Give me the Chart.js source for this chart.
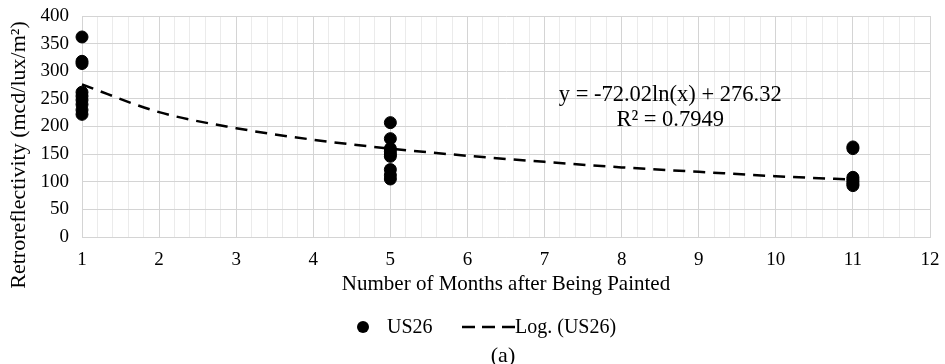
<!DOCTYPE html>
<html>
<head>
<meta charset="utf-8">
<script src="https://cdn.jsdelivr.net/npm/chart.js@4"></script>
<style>
    body { margin: 0; background: #fff; }
    #wrap { width: 945px; height: 364px; position: relative; }
</style>
</head>
<body>
<div id="wrap"><canvas id="chart-canvas"></canvas></div>
<script>
// readings per survey month
const MONTH_1  = [362, 318, 314, 262, 255, 248, 240, 230, 222];
const MONTH_5  = [207, 178, 160, 155, 150, 146, 122, 112, 105];
const MONTH_11 = [163, 160, 108, 104, 100, 96, 93];

// dashed log trend line, read at each month
const TREND_X = [1, 2, 3, 4, 5, 6, 7, 8, 9, 10, 11];
const TREND_Y = [276, 226, 197, 176, 160, 147, 136, 126, 118, 110, 104];

const X_TICKS = [1, 2, 3, 4, 5, 6, 7, 8, 9, 10, 11, 12];
const Y_TICKS = [0, 50, 100, 150, 200, 250, 300, 350, 400];

const EQUATION = "y = -72.02ln(x) + 276.32";
const R_SQUARED = "R² = 0.7949";
const Y_TITLE = "Retroreflectivity (mcd/lux/m²)";

const FONT = "'Liberation Serif', 'Times New Roman', serif";

const points = [];
MONTH_1.forEach(v => points.push({x: 1, y: v}));
MONTH_5.forEach(v => points.push({x: 5, y: v}));
MONTH_11.forEach(v => points.push({x: 11, y: v}));

const trend = TREND_X.map((x, i) => ({x: x, y: TREND_Y[i]}));

function isMajor(v) {
    return Math.abs(v - Math.round(v)) < 1e-6;
}

function noPad(scale) {
    scale.paddingTop = 0;
    scale.paddingBottom = 0;
    scale.paddingLeft = 0;
    scale.paddingRight = 0;
}

const extras = {
    id: "extras",
    afterDraw(chart) {
        const ctx = chart.ctx;
        const xs = chart.scales.x;
        const ys = chart.scales.y;
        ctx.save();
        ctx.fillStyle = "#000";
        ctx.textBaseline = "middle";

        // y axis title, sits lower than the plot centre
        ctx.save();
        ctx.translate(19, 155);
        ctx.rotate(-Math.PI / 2);
        ctx.font = "22px " + FONT;
        ctx.textAlign = "center";
        ctx.fillText(Y_TITLE, 0, 0);
        ctx.restore();

        ctx.font = "22.5px " + FONT;
        ctx.textAlign = "center";
        ctx.fillText(EQUATION, xs.getPixelForValue(8.63), ys.getPixelForValue(256));
        ctx.fillText(R_SQUARED, xs.getPixelForValue(8.63), ys.getPixelForValue(211));

        // legend
        const ly = 327;
        ctx.beginPath();
        ctx.arc(363, ly, 6, 0, Math.PI * 2);
        ctx.fill();
        ctx.font = "20px " + FONT;
        ctx.textAlign = "left";
        ctx.fillText("US26", 387, ly + 1);
        ctx.strokeStyle = "#000";
        ctx.lineWidth = 2.5;
        ctx.setLineDash([13, 7]);
        ctx.beginPath();
        ctx.moveTo(462, ly);
        ctx.lineTo(515, ly);
        ctx.stroke();
        ctx.setLineDash([]);
        ctx.fillText("Log. (US26)", 515, ly + 1);

        ctx.font = "22px " + FONT;
        ctx.textAlign = "center";
        ctx.fillText("(a)", 503, 356);
        ctx.restore();
    }
};

new Chart(document.getElementById("chart-canvas").getContext("2d"), {
    type: "scatter",
    data: {
        datasets: [{
            label: "US26",
            data: points,
            backgroundColor: "#000",
            borderColor: "#000",
            pointRadius: 6,
            pointHoverRadius: 6,
            clip: false
        }, {
            label: "Log. (US26)",
            data: trend,
            showLine: true,
            borderColor: "#000",
            borderWidth: 2.5,
            borderDash: [12, 8],
            pointRadius: 0,
            cubicInterpolationMode: "monotone",
            clip: false
        }]
    },
    options: {
        responsive: true,
        maintainAspectRatio: false,
        animation: false,
        layout: {padding: {left: 0, right: 15, top: 16, bottom: 67}},
        plugins: {
            legend: {display: false},
            tooltip: {enabled: false}
        },
        scales: {
            x: {
                type: "linear",
                min: 1,
                max: 12,
                afterFit(scale) { scale.height = 60; noPad(scale); },
                afterBuildTicks(scale) {
                    const t = [];
                    for (let i = 0; i <= 55; i++) t.push({value: 1 + i * 0.2});
                    scale.ticks = t;
                },
                ticks: {
                    autoSkip: false,
                    maxRotation: 0,
                    padding: 12,
                    color: "#000",
                    font: {family: FONT, size: 19},
                    callback: v => (isMajor(v) && X_TICKS.includes(Math.round(v))) ? String(Math.round(v)) : ""
                },
                grid: {
                    drawTicks: false,
                    color: c => isMajor(c.tick.value) ? "#d4d4d4" : "#ebebeb",
                    lineWidth: 1
                },
                border: {color: "#d4d4d4"},
                title: {
                    display: true,
                    text: "Number of Months after Being Painted",
                    color: "#000",
                    font: {family: FONT, size: 21},
                    padding: {top: 9, bottom: 0}
                }
            },
            y: {
                min: 0,
                max: 400,
                afterFit(scale) { scale.width = 82; noPad(scale); },
                afterBuildTicks(scale) {
                    scale.ticks = Y_TICKS.map(v => ({value: v}));
                },
                ticks: {
                    padding: 13,
                    color: "#000",
                    font: {family: FONT, size: 19}
                },
                grid: {
                    drawTicks: false,
                    color: "#d4d4d4"
                },
                border: {color: "#d4d4d4"}
            }
        }
    },
    plugins: [extras]
});
</script>
</body>
</html>
